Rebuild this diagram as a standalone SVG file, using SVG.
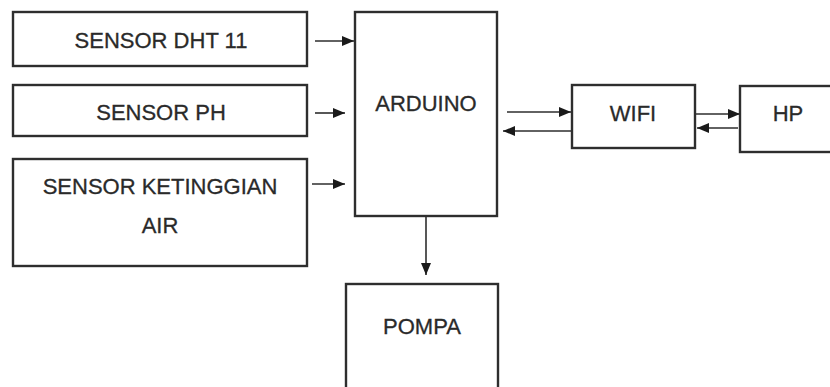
<svg xmlns="http://www.w3.org/2000/svg" width="830" height="387" viewBox="0 0 830 387">
<defs>
<marker id="ah" viewBox="0 0 12 10" refX="12" refY="5" markerWidth="12" markerHeight="10" markerUnits="userSpaceOnUse" orient="auto">
<path d="M0,0 L12,5 L0,10 Z" fill="#1a1a1a"/>
</marker>
<style>
.box{fill:#fff;stroke:#2e2e2e;stroke-width:2.4}
.lbl{font-family:"Liberation Sans",Arial,sans-serif;font-size:22px;fill:#2a2a2a;stroke:#2a2a2a;stroke-width:0.3;text-anchor:middle}
.con{stroke:#2e2e2e;stroke-width:1.6;fill:none;marker-end:url(#ah)}
</style>
</defs>
<rect width="830" height="387" fill="#fff"/>
<g id="sensor-dht">
<rect class="box" x="13" y="12" width="294" height="54"/>
<text class="lbl" x="161" y="48">SENSOR DHT 11</text>
</g>
<g id="sensor-ph">
<rect class="box" x="13" y="85" width="294" height="51"/>
<text class="lbl" x="161" y="120">SENSOR PH</text>
</g>
<g id="sensor-ketinggian">
<rect class="box" x="13" y="159" width="294" height="107"/>
<text class="lbl" x="160" y="194">SENSOR KETINGGIAN</text>
<text class="lbl" x="160" y="233">AIR</text>
</g>
<g id="arduino">
<rect class="box" x="355" y="12" width="142" height="204"/>
<text class="lbl" x="426" y="111">ARDUINO</text>
</g>
<g id="wifi">
<rect class="box" x="572" y="85" width="123" height="63"/>
<text class="lbl" x="633" y="121">WIFI</text>
</g>
<g id="hp">
<rect class="box" x="740" y="86" width="100" height="66"/>
<text class="lbl" x="788" y="121">HP</text>
</g>
<g id="pompa">
<rect class="box" x="346" y="284" width="152" height="120"/>
<text class="lbl" x="422" y="334">POMPA</text>
</g>
<g id="connectors">
<line class="con" x1="315" y1="41" x2="354" y2="41"/>
<line class="con" x1="315" y1="113" x2="345" y2="113"/>
<line class="con" x1="312" y1="184" x2="345" y2="184"/>
<line class="con" x1="426" y1="216" x2="426" y2="275"/>
<line class="con" x1="507" y1="112" x2="571" y2="112"/>
<line class="con" x1="571" y1="131" x2="503" y2="131"/>
<line class="con" x1="695" y1="114" x2="740" y2="114"/>
<line class="con" x1="738" y1="128" x2="697" y2="128"/>
</g>
</svg>
